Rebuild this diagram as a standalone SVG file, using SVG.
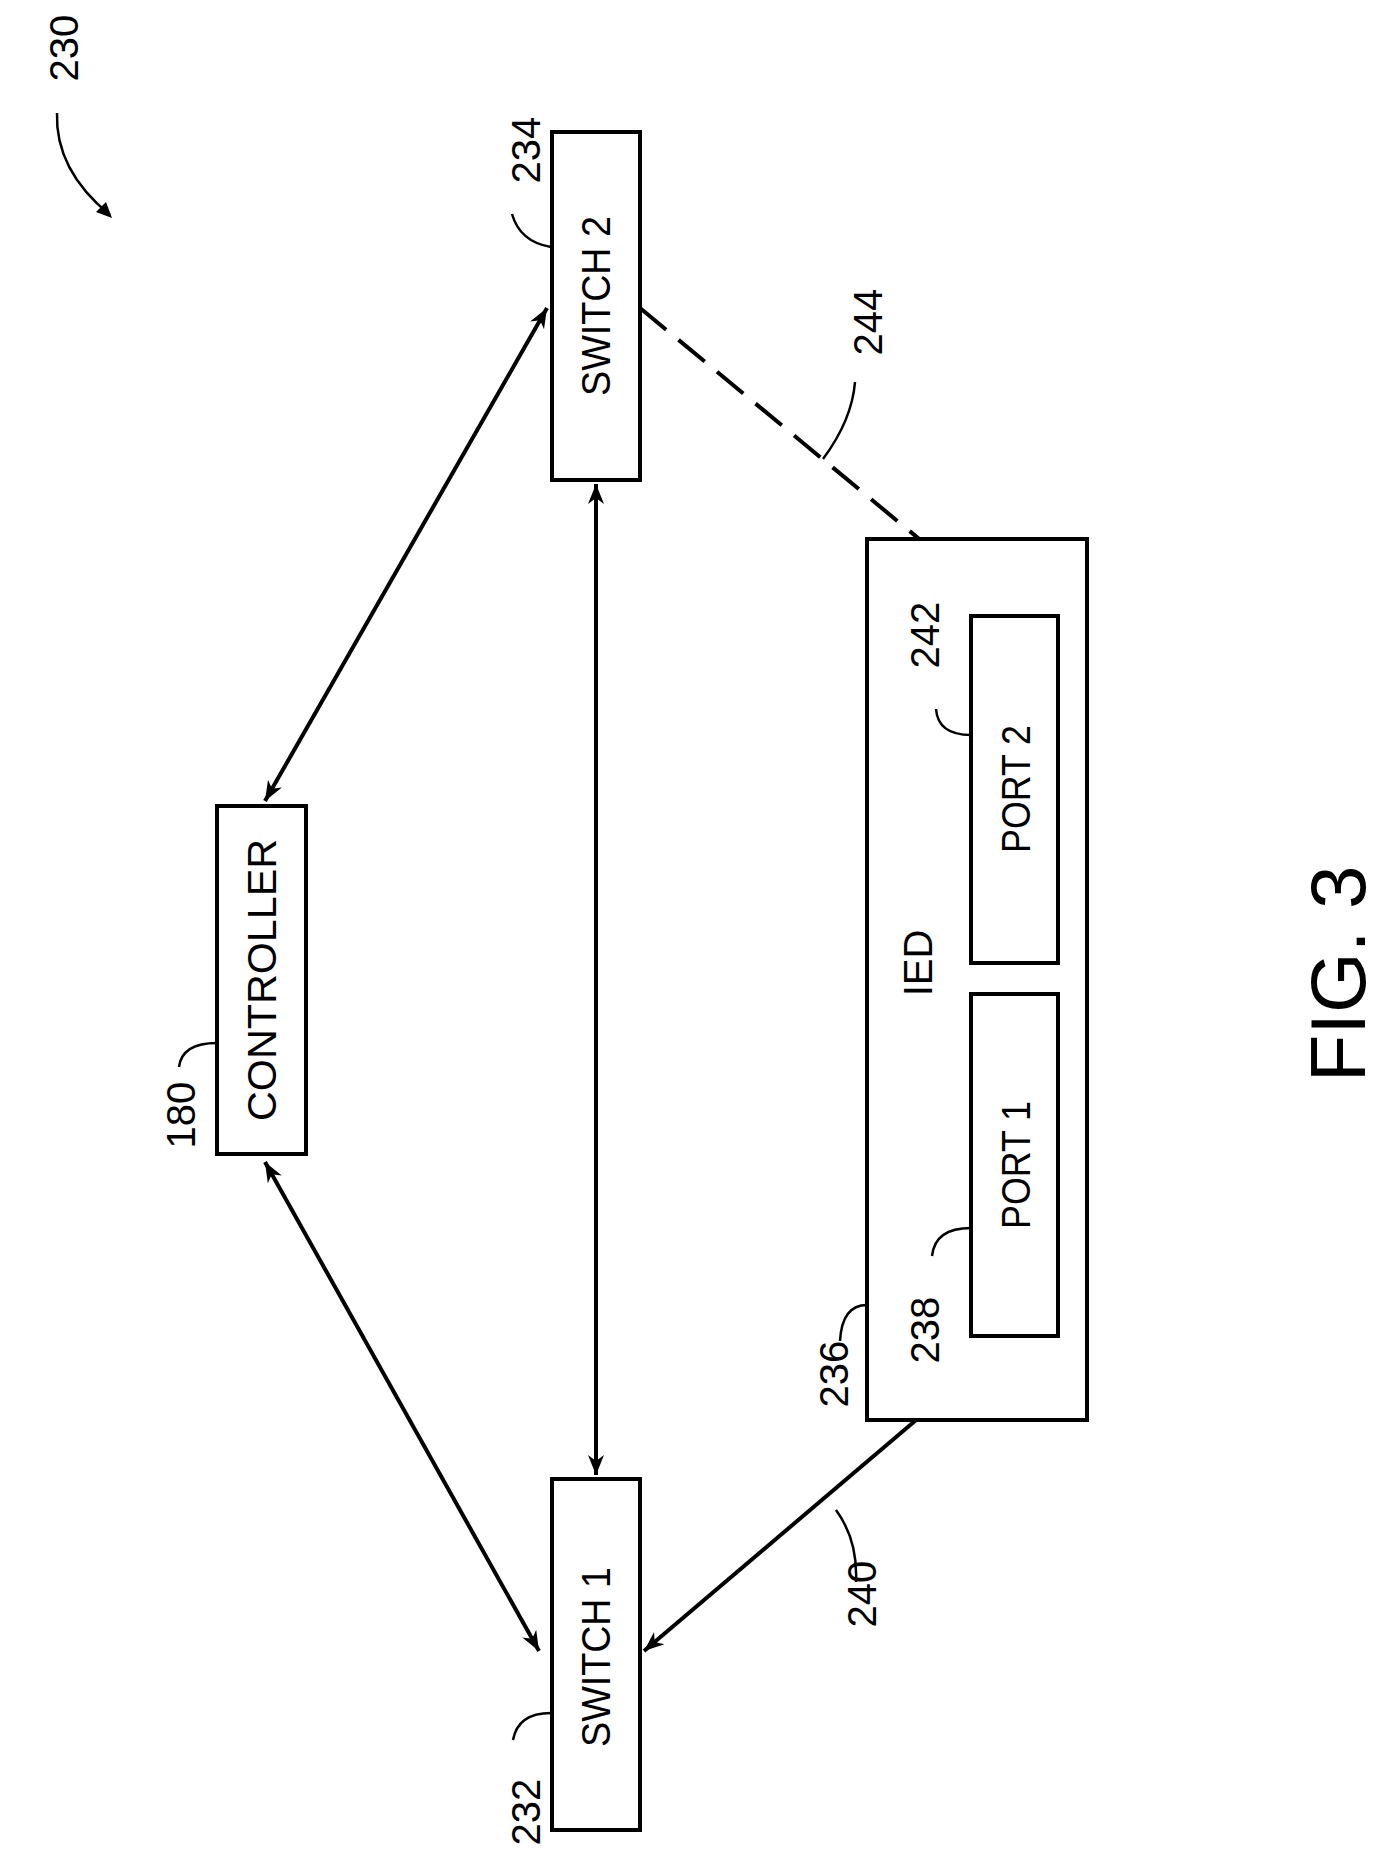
<svg xmlns="http://www.w3.org/2000/svg" width="1384" height="1850" viewBox="0 0 1384 1850">
<style>
.box{fill:#fff;stroke:#000;stroke-width:4}
.t{font-family:"Liberation Sans",Arial,sans-serif;font-size:40px;fill:#000;text-anchor:middle;dominant-baseline:central}
.ln{stroke:#000;stroke-width:4;fill:none}
.ld{stroke:#000;stroke-width:2.5;fill:none}
</style>
<defs>
<marker id="a" viewBox="0 0 10 10" refX="10" refY="5" markerWidth="5" markerHeight="5" orient="auto-start-reverse" markerUnits="strokeWidth"><path d="M0,1 L10,5 L0,9 L3,5 Z" fill="#000"/></marker>
</defs>
<rect width="1384" height="1850" fill="#fff"/>
<g id="connectors">
<line class="ln" x1="547" y1="308" x2="265" y2="801" marker-start="url(#a)" marker-end="url(#a)"/>
<line class="ln" x1="265" y1="1162" x2="539" y2="1651" marker-start="url(#a)" marker-end="url(#a)"/>
<line class="ln" x1="596" y1="484" x2="596" y2="1475" marker-start="url(#a)" marker-end="url(#a)"/>
<line class="ln" x1="644" y1="1651" x2="1008" y2="1342" marker-start="url(#a)" marker-end="url(#a)"/>
<line class="ln" x1="640" y1="308" x2="1011" y2="615" stroke-dasharray="34,16" stroke-width="3"/>
</g>
<g id="ied"><rect class="box" x="867" y="539" width="220" height="881"/><text class="t" transform="translate(918,963) rotate(-90)">IED</text></g>
<g id="switch2"><rect class="box" x="552" y="132" width="88" height="348"/><text class="t" transform="translate(596,306) rotate(-90)" textLength="180" lengthAdjust="spacingAndGlyphs">SWITCH 2</text></g>
<g id="switch1"><rect class="box" x="552" y="1479" width="88" height="351"/><text class="t" transform="translate(596,1657) rotate(-90)" textLength="180" lengthAdjust="spacingAndGlyphs">SWITCH 1</text></g>
<g id="controller"><rect class="box" x="217" y="806" width="89" height="348"/><text class="t" transform="translate(262,980) rotate(-90)" textLength="282" lengthAdjust="spacingAndGlyphs">CONTROLLER</text></g>
<g id="port2"><rect class="box" x="971" y="616" width="87" height="347"/><text class="t" transform="translate(1016,789) rotate(-90)" textLength="128" lengthAdjust="spacingAndGlyphs">PORT 2</text></g>
<g id="port1"><rect class="box" x="971" y="994" width="87" height="342"/><text class="t" transform="translate(1016,1165) rotate(-90)" textLength="128" lengthAdjust="spacingAndGlyphs">PORT 1</text></g>
<g id="labels">
<text class="t" transform="translate(64,48) rotate(-90)">230</text>
<path class="ld" d="M57,113 Q55,170 110,215"/><path d="M112,218 L96,212 L106,202 Z" fill="#000"/>
<text class="t" transform="translate(526,150) rotate(-90)">234</text><path class="ld" d="M512,214 Q520,242 551,247"/>
<text class="t" transform="translate(868,322) rotate(-90)">244</text><path class="ld" d="M823,459 Q852,420 855,382"/>
<text class="t" transform="translate(925,635) rotate(-90)">242</text><path class="ld" d="M936,709 Q938,735 971,735"/>
<text class="t" transform="translate(181,1115) rotate(-90)">180</text><path class="ld" d="M179,1067 Q182,1043 217,1043"/>
<text class="t" transform="translate(925,1330) rotate(-90)">238</text><path class="ld" d="M932,1256 Q935,1228 971,1228"/>
<text class="t" transform="translate(834,1374) rotate(-90)">236</text><path class="ld" d="M840,1341 Q842,1305 867,1305"/>
<text class="t" transform="translate(862,1594) rotate(-90)">240</text><path class="ld" d="M836,1510 Q858,1540 856,1582"/>
<text class="t" transform="translate(526,1812) rotate(-90)">232</text><path class="ld" d="M513,1740 Q518,1713 551,1713"/>
<text class="t" style="font-size:78px" transform="translate(1338,974) rotate(-90)">FIG. 3</text>
</g>
</svg>
